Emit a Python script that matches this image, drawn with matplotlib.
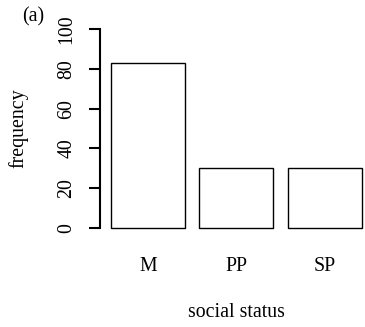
import matplotlib
matplotlib.use("Agg")
import matplotlib.pyplot as plt

# social status counts
categories = ["M", "PP", "SP"]
counts = [83, 30, 30]
y_ticks = [0, 20, 40, 60, 80, 100]

plt.rcParams["font.family"] = ["Liberation Serif", "DejaVu Serif"]
plt.rcParams["font.size"] = 14.3

W, H = 365, 327
fig = plt.figure(figsize=(W / 100, H / 100), dpi=100)
# plot region in pixels: left 100, right 365, top 21, bottom 236
ax = fig.add_axes([100 / W, (H - 236) / H, 265 / W, 215 / H])

# R-style bar layout: width 1, space 0.2
centers = [0.7 + 1.2 * i for i in range(len(categories))]
ax.bar(centers, counts, width=1.0, color="white", edgecolor="black", linewidth=1.0)

ax.set_xlim(0.051, 3.644)
ax.set_ylim(-4, 104)

for side in ["top", "right", "bottom"]:
    ax.spines[side].set_visible(False)
ax.spines["left"].set_bounds(0, 100)
ax.spines["left"].set_linewidth(1.5)

ax.set_yticks(y_ticks)
ax.set_yticklabels([str(t) for t in y_ticks], rotation=90, va="center")
ax.tick_params(axis="y", length=8, width=1.5, pad=9)

ax.set_xticks(centers)
ax.set_xticklabels(categories)
ax.tick_params(axis="x", length=0, pad=15)

ax.set_ylabel("frequency")
ax.yaxis.set_label_coords(-0.309, 0.5)
ax.yaxis.label.set_va("center")
ax.set_xlabel("social status")
ax.xaxis.set_label_coords(0.513, -0.358)
ax.xaxis.label.set_va("center")

fig.text(33 / W, 1 - 17 / H, "(a)", ha="center", va="center")

fig.savefig("out.png", dpi=100)
